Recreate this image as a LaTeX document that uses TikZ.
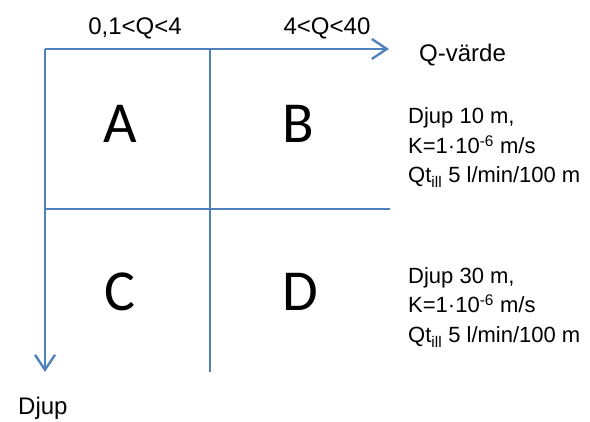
\documentclass[tikz,border=0pt]{standalone}
\usepackage{fontspec}
\setmainfont{Liberation Sans}
\newfontfamily\cellfont{Carlito}
\usetikzlibrary{arrows.meta}
\definecolor{axisblue}{RGB}{79,129,189}
\begin{document}
\begin{tikzpicture}[x=1pt,y=-1pt,
  axis/.style={draw=axisblue,line width=2.4pt},
  axarrow/.style={axis,-{Straight Barb[length=15pt,width=20pt,line width=2.4pt]}},
  cell/.style={font=\cellfont\fontsize{58}{66}\selectfont},
  toplabel/.style={font=\fontsize{24}{28}\selectfont},
  info/.style={font=\fontsize{22}{26}\selectfont,anchor=base west,inner sep=0pt}
]
\useasboundingbox (0,0) rectangle (590,422);
\coordinate (O) at (45,49);
\coordinate (Tq) at (389,49);
\coordinate (Td) at (45,372);
\coordinate (M1) at (210,49);
\coordinate (M2) at (210,372);
\coordinate (L) at (45,209);
\coordinate (R) at (390,209);
\draw[axarrow] (O) -- (Tq);
\draw[axarrow] (O) -- (Td);
\draw[axis] (M1) -- (M2);
\draw[axis] (L) -- (R);
\node[cell] (A) at (120,124) {A};
\node[cell] (B) at (298,124) {B};
\node[cell] (C) at (120,292) {C};
\node[cell] (D) at (300,292) {D};
\node[toplabel] (q1) at (135,28) {0,1<Q<4};
\node[toplabel] (q2) at (327,28) {4<Q<40};
\node[toplabel,anchor=base west,inner sep=0pt] (qv) at (419,62) {Q-värde};
\node[toplabel,anchor=base west,inner sep=0pt] (dj) at (18,415) {Djup};
\node[info] (b1) at (408,124) {Djup 10 m,};
\node[info] (b2) at (408,154) {K=1·10\textsuperscript{-6} m/s};
\node[info] (b3) at (408,183) {Qt\textsubscript{ill} 5 l/min/100 m};
\node[info] (d1) at (408,284) {Djup 30 m,};
\node[info] (d2) at (408,313) {K=1·10\textsuperscript{-6} m/s};
\node[info] (d3) at (408,343) {Qt\textsubscript{ill} 5 l/min/100 m};
\end{tikzpicture}
\end{document}
